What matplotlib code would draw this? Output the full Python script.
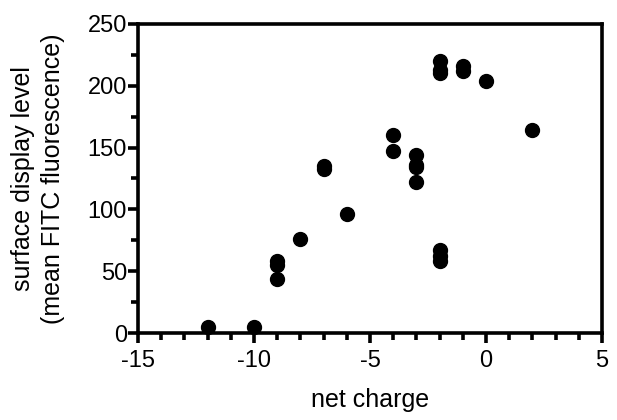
import matplotlib
matplotlib.use("Agg")
from matplotlib import pyplot as plt
from matplotlib.ticker import MultipleLocator

plt.rcParams['font.family'] = ['Liberation Sans', 'DejaVu Sans']
plt.rcParams['axes.unicode_minus'] = False

# net charge vs. surface display level
charge = [-12, -10, -9, -9, -9, -8, -7, -7, -6, -4, -4,
          -3, -3, -3, -3, -2, -2, -2, -2, -2, -2, -1, -1, 0, 2]
display = [5, 5, 58, 55, 44, 76, 135, 133, 96, 160, 147,
           144, 136, 134, 122, 220, 213, 210, 67, 62, 58, 216, 212, 204, 164]

fig = plt.figure(figsize=(6.17, 4.2), dpi=100)
ax = fig.add_axes([0.2237, 0.2071, 0.752, 0.736])

ax.plot(charge, display, 'o', color='black', markersize=10, clip_on=False)

ax.set_xlim(-15, 5)
ax.set_ylim(0, 250)
ax.xaxis.set_major_locator(MultipleLocator(5))
ax.xaxis.set_minor_locator(MultipleLocator(1))
ax.yaxis.set_major_locator(MultipleLocator(50))
ax.yaxis.set_minor_locator(MultipleLocator(25))

for s in ax.spines.values():
    s.set_linewidth(2.6)
ax.tick_params(which='major', direction='out', length=7, width=2.6, labelsize=17, pad=1)
ax.tick_params(axis='x', which='major', pad=5)
ax.tick_params(which='minor', direction='out', length=5, width=2.6)

ax.set_xlabel('net charge', fontsize=18, labelpad=12)
ax.set_ylabel('surface display level\n(mean FITC fluorescence)', fontsize=18, labelpad=16,
              linespacing=1.35)

fig.savefig('out.png', dpi=100)
